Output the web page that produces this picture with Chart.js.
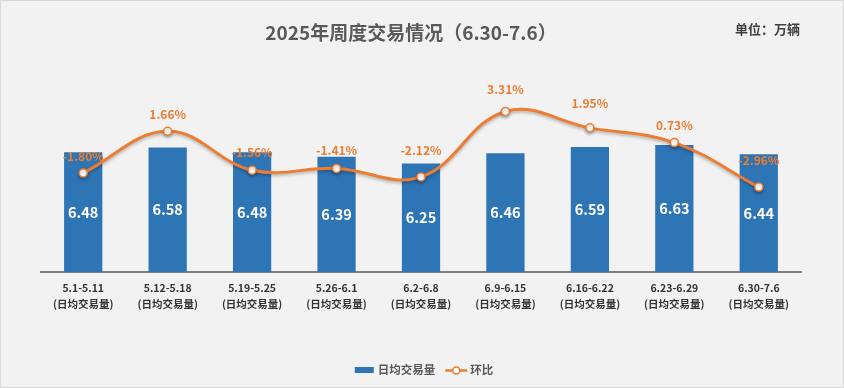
<!DOCTYPE html>
<html>
<head>
<meta charset="utf-8">
<script src="https://cdn.jsdelivr.net/npm/chart.js@4.4.1/dist/chart.umd.min.js"></script>
<style>
  html, body { margin: 0; padding: 0; background: #f2f2f2; }
  #chart { display: block; background: #f2f2f2; }
</style>
</head>
<body>
<canvas id="chart" width="844" height="388"></canvas>
<script>
// weekly data
const weeks = ["5.1-5.11", "5.12-5.18", "5.19-5.25", "5.26-6.1", "6.2-6.8", "6.9-6.15", "6.16-6.22", "6.23-6.29", "6.30-7.6"];
const subLabel = "(日均交易量)";
const dailyVolume = [6.48, 6.58, 6.48, 6.39, 6.25, 6.46, 6.59, 6.63, 6.44];
const weekOnWeek = [-1.80, 1.66, -1.56, -1.41, -2.12, 3.31, 1.95, 0.73, -2.96];

const blue = "#2E75B6";
const orange = "#ED7D31";
const font = '"Noto Sans CJK SC", "Open Sans", sans-serif';
// how far each % label sits above its point (px)
const pctLift = [17, 17, 18, 18, 27, 22, 24, 17, 27];

const overlay = {
  id: "overlay",
  beforeDraw(chart) {
    const ctx = chart.ctx;
    ctx.save();
    ctx.fillStyle = "#f2f2f2";
    ctx.fillRect(0, 0, chart.width, chart.height);
    ctx.strokeStyle = "#d9d9d9";
    ctx.lineWidth = 1;
    ctx.strokeRect(0.5, 0.5, chart.width - 1, chart.height - 1);
    ctx.restore();
  },
  beforeDatasetDraw(chart, args) {
    if (args.index !== 0) return;
    const ctx = chart.ctx;
    ctx.save();
    ctx.shadowColor = "rgba(0,0,0,0.25)";
    ctx.shadowBlur = 3;
    ctx.shadowOffsetY = 2;
  },
  afterDatasetDraw(chart, args) {
    if (args.index !== 0) return;
    chart.ctx.restore();
  },
  afterDatasetsDraw(chart) {
    const ctx = chart.ctx;
    const bottom = chart.chartArea.bottom;
    ctx.save();
    ctx.textAlign = "center";
    ctx.textBaseline = "middle";

    // bar values, centred in the visible part of each bar
    ctx.fillStyle = "#ffffff";
    ctx.font = "bold 14.5px " + font;
    chart.getDatasetMeta(1).data.forEach((bar, i) => {
      ctx.fillText(dailyVolume[i].toFixed(2), bar.x, (bar.y + bottom) / 2);
    });

    // week-on-week labels
    ctx.fillStyle = orange;
    ctx.font = "bold 12px " + font;
    chart.getDatasetMeta(0).data.forEach((pt, i) => {
      ctx.fillText(weekOnWeek[i].toFixed(2) + "%", pt.x, pt.y - pctLift[i]);
    });
    ctx.restore();
  },
  afterDraw(chart) {
    const ctx = chart.ctx;
    ctx.save();
    ctx.textBaseline = "middle";

    ctx.fillStyle = "#595959";
    ctx.font = "bold 19px " + font;
    ctx.textAlign = "center";
    ctx.fillText("2025年周度交易情况（6.30-7.6）", 411, 33);

    ctx.fillStyle = "#404040";
    ctx.font = "bold 13px " + font;
    ctx.textAlign = "left";
    ctx.fillText("单位：万辆", 735, 29.5);

    // legend
    ctx.font = "bold 11.5px " + font;
    const t1 = chart.data.datasets[1].label;
    const t2 = chart.data.datasets[0].label;
    const w1 = ctx.measureText(t1).width;
    const w2 = ctx.measureText(t2).width;
    const total = 19 + 4 + w1 + 10 + 22 + 3 + w2;
    let x = 424 - total / 2;
    const y = 370;
    ctx.fillStyle = blue;
    ctx.fillRect(x, y - 3, 19, 6);
    x += 23;
    ctx.fillStyle = "#595959";
    ctx.fillText(t1, x, y);
    x += w1 + 10;
    ctx.strokeStyle = orange;
    ctx.lineWidth = 2.5;
    ctx.beginPath();
    ctx.moveTo(x, y + 0.5);
    ctx.lineTo(x + 22, y + 0.5);
    ctx.stroke();
    ctx.beginPath();
    ctx.arc(x + 11, y + 0.5, 3.5, 0, Math.PI * 2);
    ctx.fillStyle = "#ffffff";
    ctx.fill();
    ctx.lineWidth = 1.5;
    ctx.stroke();
    x += 25;
    ctx.fillStyle = "#595959";
    ctx.fillText(t2, x, y);
    ctx.restore();
  }
};

new Chart(document.getElementById("chart"), {
  type: "bar",
  data: {
    labels: weeks.map(w => [w, subLabel]),
    datasets: [
      {
        type: "line",
        label: "环比",
        data: weekOnWeek,
        yAxisID: "y1",
        borderColor: orange,
        borderWidth: 3,
        tension: 0.4,
        pointRadius: 4,
        pointBackgroundColor: "#ffffff",
        pointBorderColor: orange,
        pointBorderWidth: 1.5,
        order: 0
      },
      {
        label: "日均交易量",
        data: dailyVolume,
        yAxisID: "y",
        backgroundColor: blue,
        barPercentage: 0.453,
        categoryPercentage: 1,
        order: 1
      }
    ]
  },
  options: {
    responsive: false,
    animation: false,
    devicePixelRatio: 1,
    layout: { padding: { left: 41, right: 43, top: 79, bottom: 66 } },
    plugins: { legend: { display: false }, tooltip: { enabled: false } },
    scales: {
      x: {
        grid: { display: false, drawTicks: false },
        border: { display: true, color: "#7f7f7f", width: 2 },
        ticks: {
          padding: 8,
          color: "#333333",
          font: { family: font, size: 10.5, weight: "bold", lineHeight: "16px" }
        },
        afterFit(scale) { scale.height = 50; }
      },
      y: { display: false, min: 4, max: 8 },
      y1: { display: false, min: -10, max: 6 }
    }
  },
  plugins: [overlay]
});
</script>
</body>
</html>
